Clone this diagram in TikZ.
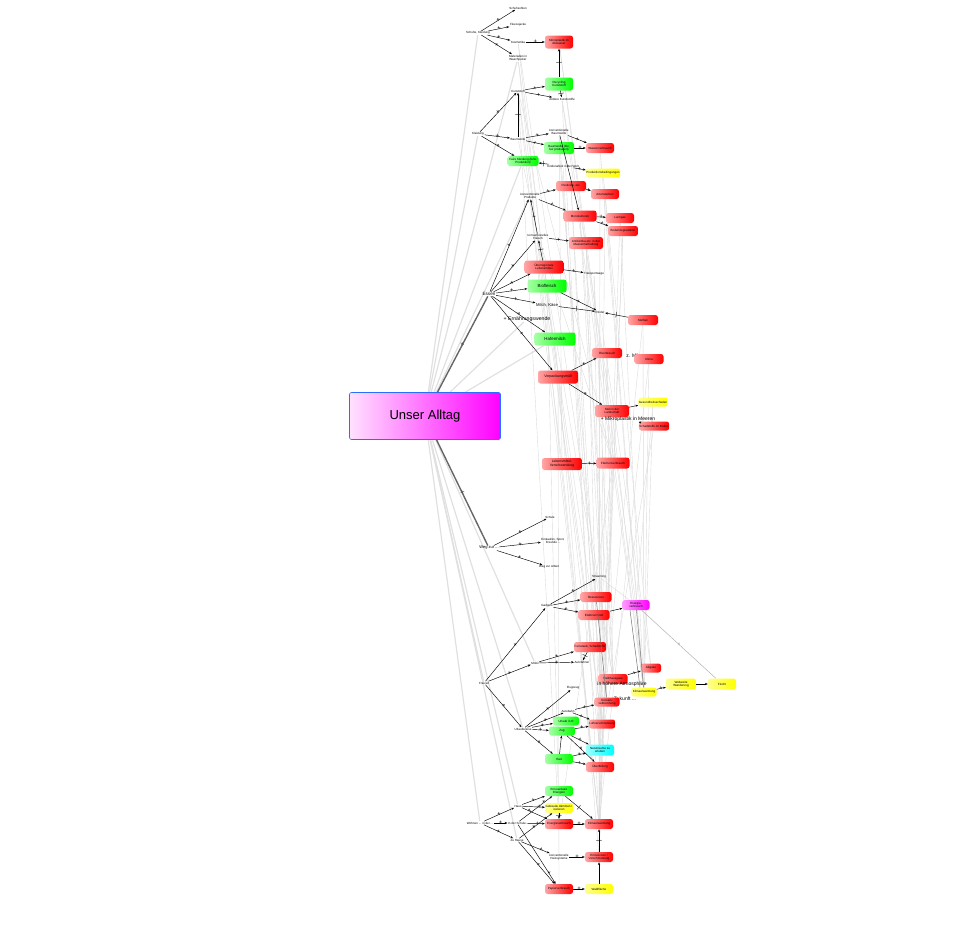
\documentclass[tikz,border=0pt]{standalone}
\usepackage{fontspec}
\setmainfont{Liberation Sans}
\usetikzlibrary{arrows.meta,backgrounds}
\tikzset{
 tx/.style={font=\fontsize{3}{3.4}\selectfont, inner sep=0.5pt, align=center},
 tl/.style={font=\fontsize{4.6}{5}\selectfont, inner sep=0.5pt, align=center},
 bx/.style={rounded corners=2.5pt, inner sep=0.5pt, align=center, font=\fontsize{3}{3.4}\selectfont, minimum width=28pt, minimum height=10pt},
 rb/.style={bx, left color=red!35!white, right color=red},
 gb/.style={bx, left color=green!35!white, right color=green},
 yb/.style={bx, left color=yellow!45!white, right color=yellow},
 cb/.style={bx, left color=cyan!40!white, right color=cyan},
 mb/.style={bx, left color=magenta!40!white, right color=magenta},
 pa/.style={draw=black, line width=0.45pt, -{Stealth[length=2.8pt,width=2.2pt]}},
 pm/.style={sloped, inner sep=0pt, font=\fontsize{6}{6}\selectfont},
 gl/.style={draw=black!14, line width=0.4pt},
 gu/.style={draw=black!12, line width=1.2pt},
 dk/.style={draw=black!55, line width=0.5pt},
}
\newcommand\lnkp[3][]{\draw[pa,#1] (#2) -- node[pm]{+} (#3);}
\newcommand\lnkq[3]{\draw[pa] (#2) -- node[pm,pos=#1]{+} (#3);}
\newcommand\lnkm[3][]{\draw[pa,#1] (#2) -- node[pm]{|} (#3);}
\newcommand\lnkg[2]{\draw[gl] (#1) -- (#2);}
\begin{document}
\begin{tikzpicture}[x=1pt,y=-1pt]
\useasboundingbox (0,0) rectangle (954,935);
% central
\node[rounded corners=2pt, left color=magenta!12!white, right color=magenta, draw={rgb,255:red,40;green,110;blue,255}, line width=0.6pt, minimum width=151pt, minimum height=47pt, font=\fontsize{13}{14}\selectfont] (ua) at (425,416) {Unser Alltag};
% top group
\node[tx] (sk) at (478,33) {Schuhe, Kleidung};
\node[tx] (s1) at (518,8) {Schuhsohlen};
\node[tx] (s2) at (518,25) {Fleecejacke};
\node[tx] (s3) at (518,42) {Kosmetika};
\node[tx] (s4) at (518,58) {Materialien in\\Waschpulver};
\node[rb, minimum height=13pt] (mik) at (559,42) {Mikroplastik im\\Abwasser};
\node[gb, minimum height=13pt] (rec) at (559,84) {Recycling\\Kunststoff};
\node[tx] (kun) at (518,91) {Kunststoff};
\node[tx] (and) at (562,99) {Andere Kunststoffe};
\node[tx] (kl) at (478,134) {Kleidung};
\node[tx] (bw) at (518,139) {Baumwolle};
\node[tx] (kbw) at (559,132) {konventionelle\\Baumwolle};
\node[gb, minimum width=30pt, minimum height=12pt] (bbw) at (559,148) {Baumwolle (bio,\\fair produziert)};
\node[rb] (wv) at (600,148) {Wasserverbrauch};
\node[gb, minimum width=31pt] (fk) at (523,161) {Faire Kleidung (bzw.\\Produktion)};
\node[tx] (ka) at (563,166) {Kinderarbeit in der Welt};
\node[yb, minimum width=27pt, minimum height=9pt] (pb) at (603,173) {Produktionsbedingungen};
\node[rb, minimum width=30pt] (pe) at (571,186) {Pestizide, etc.};
\node[rb] (ar) at (605,194) {Artensterben};
\node[tx] (kp) at (530,196) {konventionelle\\Produkte};
\node[rb, minimum width=33pt, minimum height=11pt] (mo) at (580,216) {Monokulturen};
\node[rb] (la) at (620,218) {Lachgas};
\node[rb, minimum width=30pt] (bo) at (623,231) {Bodendegradation};
\node[tx] (kf) at (538,237) {konventionelles\\Fleisch};
\node[rb, minimum width=34pt, minimum height=12pt] (an) at (586,243) {Antibiotika etc. in der\\Massentierhaltung};
\node[rb, minimum width=39pt, minimum height=13pt] (ue) at (544,267) {Überregionale\\Lebensmittel};
\node[tx] (tr) at (594,274) {Transportwege};
\node[tl] (es) at (489,294) {Essen};
\node[gb, minimum width=39pt, minimum height=13pt, font=\fontsize{4.4}{5}\selectfont] (bf) at (547,286) {Biofleisch};
\node[tl, font=\fontsize{4.2}{5}\selectfont] (mk) at (547,305) {Milch, Käse};
\node[tx] (ri) at (600,312) {Rinder};
\node[rb, minimum width=30pt] (me) at (643,320) {Methan};
\node[tl, font=\fontsize{5.2}{6}\selectfont] (ew) at (527,319) {+ Ernährungswende};
\node[gb, minimum width=41pt, minimum height=13pt, font=\fontsize{4.4}{5}\selectfont] (hm) at (555,339) {Hafermilch};
\node[rb, minimum width=40pt, minimum height=13pt, font=\fontsize{3.6}{4}\selectfont] (vm) at (558,377) {Verpackungsmüll};
\node[rb, minimum width=30pt] (oe) at (607,353) {Ölverbrauch};
\node[tl, font=\fontsize{5}{6}\selectfont] (zmf) at (632,356) {z. Mf};
\node[rb, minimum width=29pt] (kli) at (649,359) {Klima};
\node[rb, minimum width=34pt, minimum height=12pt] (ml) at (612,411) {Müll in der\\Landschaft};
\node[yb, minimum width=27pt, minimum height=9pt] (gs) at (653,402) {Gesundheitsschäden};
\node[tl, font=\fontsize{5}{6}\selectfont] (mm) at (628,419) {+ Mikroplastik in Meeren};
\node[rb, minimum width=28pt, minimum height=9pt] (sb) at (654,426) {Schadstoffe im Boden};
\node[rb, minimum width=40pt, minimum height=12pt, font=\fontsize{3.4}{3.9}\selectfont] (lv) at (562,464) {Lebensmittel-\\Verschwendung};
\node[rb, minimum width=33pt, minimum height=11pt] (fv) at (613,463) {Flächenverbrauch};
% Weg zur
\node[tx] (sc) at (550,517) {Schule};
\node[tl, font=\fontsize{4}{5}\selectfont] (wz) at (489,548) {Weg zur ...};
\node[tx] (ei) at (553,541) {Einkaufen, Sport,\\Freunde ...};
\node[tx] (wa) at (549,567) {Weg zur Arbeit};
% Freizeit
\node[tx] (st) at (599,577) {Streaming};
\node[tx] (ga) at (547,606) {Gadgets};
\node[rb, minimum width=31pt] (rs) at (596,597) {Ressourcen};
\node[rb, minimum width=31pt] (el) at (594,615) {Elektroschrott};
\node[mb, minimum width=27pt] (en) at (636,605) {Energie-\\verbrauch};
\node[rb, minimum width=32pt] (fs) at (590,647) {Feinstaub, Schadstoffe};
\node[tx] (mob) at (535,663) {Mobil};
\node[tx] (af) at (582,662) {Autofahren};
\node[rb, minimum width=20pt, minimum height=9pt] (ab) at (651,668) {Abgase};
\node[rb, minimum width=29pt] (th) at (613,679) {Treibhausgase};
\node[tl, font=\fontsize{5}{6}\selectfont] (ha) at (622,684) {in höhere Atmosphäre};
\node[tx] (fr) at (484,683) {Freizeit};
\node[tx] (fl) at (573,688) {Flugzeug};
\node[yb, minimum width=25pt, minimum height=9pt] (ky) at (644,692) {Klimaerwärmung};
\node[tl, font=\fontsize{5}{6}\selectfont] (zk) at (625,699) {Zukunft ...};
\node[yb, minimum width=30pt, minimum height=11pt] (ww) at (681,684) {Weltweite\\Wanderung};
\node[yb, minimum width=28pt, minimum height=11pt] (fh) at (722,684) {Flucht};
\node[rb, minimum width=25pt, minimum height=9pt] (ke) at (607,702) {Kerosin-\\verbrennung};
\node[tx] (abn) at (568,711) {Autobahn};
\node[tx] (ur) at (523,729) {Urlaubsreise};
\node[gb, minimum width=26pt, minimum height=9pt] (ud) at (566,721) {Urlaub in D};
\node[gb, minimum width=26pt, minimum height=9pt] (zg) at (562,731) {Zug};
\node[rb, minimum width=26pt, minimum height=9pt] (lu) at (602,724) {Luftverschmutzung};
\node[gb, minimum width=28pt] (rad) at (559,759) {Rad};
\node[cb, minimum width=28pt, minimum height=11pt] (nz) at (600,750) {Naturräume zu\\erleben};
\node[rb, minimum width=28pt] (uef) at (600,767) {Überfüllung};
% Wohnen
\node[tx] (wo) at (480,823) {Wohnen ... in der ...};
\node[tx] (hs) at (518,806) {Haus};
\node[tx] (ids) at (517,823) {In der Schule};
\node[tx] (zh) at (517,840) {Zu Hause};
\node[gb] (ee) at (559,791) {Erneuerbare\\Energien};
\node[yb] (gd) at (559,808) {Gebäude dämmen /\\isolieren};
\node[rb] (ev) at (559,824) {Energieverbrauch};
\node[rb] (kw) at (599,824) {Klimaerwärmung};
\node[tx] (kh) at (559,857) {konventionelle\\Heizsysteme};
\node[rb] (em) at (599,857) {Emissionen /\\Verschmutzung};
\node[rb] (pv) at (559,889) {Papierverbrauch};
\node[yb] (wf) at (599,889) {Waldfläche};

\begin{pgfonlayer}{background}
% gray lines from center
\foreach \t in {sk,s4,kl,kp,fk,ew,hm,fr,wo,mob,ur,hs,zh}{\draw[gu] (ua) -- (\t);}
% mesh
\foreach \a/\b in {kun/ev,kun/kw,s4/lu,s3/th,and/ky,mik/en,wv/kw,ar/ky,la/ky,bo/em,me/ky,kli/kw,oe/th,ri/ab,tr/lu,an/uef,mo/ke,sb/nz,gs/ky,ml/uef,fv/kw,lv/kw,pe/lu,pb/ab,ue/th,bf/ev,hm/em,vm/pv,kbw/el,bbw/rs,ka/fs,kf/ke,st/en,el/en,kun/fv,and/kw,wv/ky,la/em,bo/kw,me/lu,kli/ky,an/ke,tr/th,ri/kw,mik/ky,and/ml,s3/nz,kbw/lv,ar/em,pe/uef,mo/th,fv/ev,oe/kw,ml/ky,gs/en,s4/kw,kun/lu,bw/ue,kp/lv,kf/fv}{\lnkg{\a}{\b}}
\end{pgfonlayer}
% dark gray
\draw[dk] (rs) -- (ke);
\draw[dk] (en) -- (ky);
\draw[dk] ([xshift=-6pt]en.south) -- ([xshift=-4pt]ky.north);
\draw[draw=black!30, line width=0.5pt] (en) -- node[pm, text=black!35]{+} (fh);
\draw[draw=black!60, line width=1.4pt] (ua) -- node[pm, font=\fontsize{8}{8}\selectfont, text=black!70]{+} (es);
\draw[draw=black!60, line width=1.4pt] (ua) -- node[pm, font=\fontsize{8}{8}\selectfont, text=black!70]{+} (wz);
% top group
\lnkp{sk}{s1}\lnkp{sk}{s2}\lnkp{sk}{s3}\lnkp{sk}{s4}
\lnkp{s3}{mik}
\lnkm{rec}{mik}
\lnkp{kun}{rec}\lnkp{kun}{and}\lnkm{rec}{and}
\lnkp{kl}{kun}\lnkm{bw}{kun}
\lnkp{kl}{bw}\lnkp{kl}{fk}
\lnkp{bw}{kbw}\lnkp{bw}{bbw}
\lnkp{kbw}{wv}\lnkp{bbw}{wv}
\lnkm{ka}{fk}\lnkp{ka}{pb}
\draw[pa] (kbw) -- (mo);
\lnkp{pe}{ar}\lnkp{kp}{pe}\lnkp{kp}{mo}
\lnkp{mo}{la}\lnkp{mo}{bo}
\lnkp{kf}{kp}\lnkp{es}{kp}\lnkp{kf}{an}\lnkp{es}{kf}
\lnkm{ue}{kf}\lnkp{es}{ue}\lnkp{ue}{tr}
\lnkp{es}{bf}\lnkp{es}{mk}
\lnkp{bf}{ri}\lnkm{mk}{ri}\lnkm{me}{ri}
\lnkp{es}{hm}\lnkp{es}{vm}
\lnkp{vm}{oe}\lnkp{vm}{ml}
\draw[pa] (ml) -- (gs);
\draw[pa] (mm) -- (sb);
\lnkp{lv}{fv}
% Weg zur
\lnkp{wz}{sc}\lnkp{wz}{ei}\lnkp{wz}{wa}
% Freizeit
\lnkp{fr}{ga}\lnkp{fr}{mob}\lnkp{fr}{ur}
\lnkp{ga}{st}\lnkp{ga}{rs}\lnkp{ga}{el}
\draw[pa] (el) -- (en);
\lnkp{mob}{fs}\lnkp{mob}{af}\lnkm{fs}{af}
\lnkp{th}{ab}
\lnkp{ky}{ww}\draw[pa] (ww) -- (fh);
\lnkp{ur}{fl}\lnkp{ur}{ud}\lnkp{ur}{zg}\lnkp{ur}{rad}\lnkp{ur}{abn}
\lnkp{abn}{ke}\lnkp{abn}{lu}
\lnkp{zg}{lu}\lnkp{zg}{nz}\lnkp{rad}{nz}\lnkp{rad}{uef}\lnkp{zg}{uef}
\draw[pa] (rad) -- (zg);
% Wohnen
\lnkp{wo}{hs}\lnkp{wo}{ids}\lnkp{wo}{zh}
\lnkq{0.5}{hs}{ee}\lnkq{0.75}{hs}{gd}\lnkq{0.3}{hs}{ev}
\lnkq{0.75}{ids}{ee}\lnkq{0.6}{ids}{ev}\lnkq{0.82}{ids}{pv}
\lnkq{0.45}{zh}{gd}\lnkq{0.7}{zh}{kh}\lnkq{0.55}{zh}{pv}
\lnkm{ee}{kw}\lnkp{ev}{kw}\lnkp{kh}{em}\lnkm{em}{kw}\lnkp{pv}{wf}\draw[pa] (wf) -- (em);
\lnkm{gd}{ev}
\end{tikzpicture}
\end{document}
